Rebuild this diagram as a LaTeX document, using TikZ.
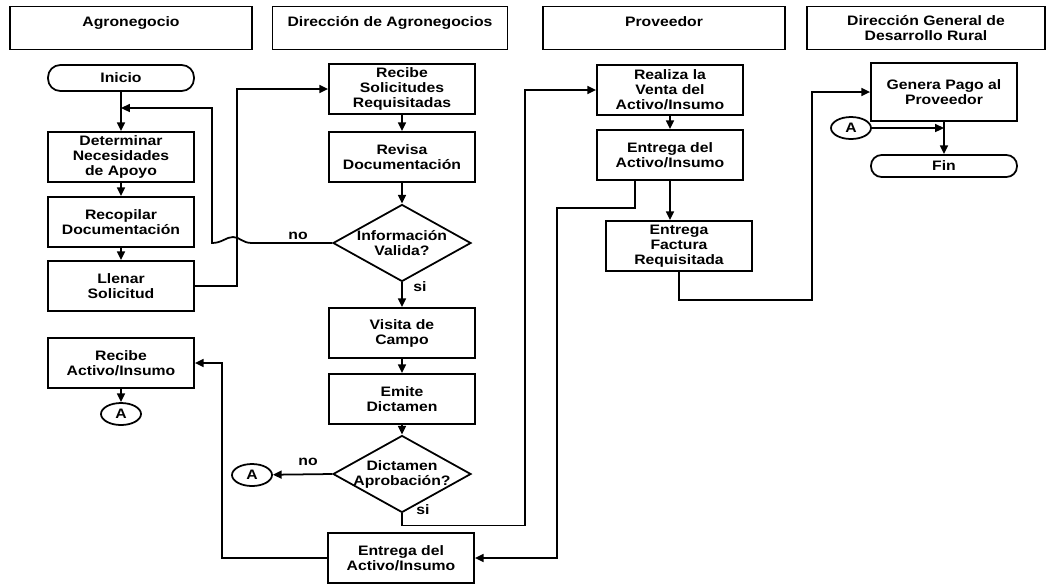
\documentclass[tikz,border=0pt]{standalone}
\usepackage{fontspec}
\setmainfont{Liberation Sans}[FakeStretch=1.15]
\usetikzlibrary{arrows.meta,shapes.geometric,calc}

\begin{document}
\begin{tikzpicture}[x=0.02cm,y=-0.02cm,
    every node/.style={font=\fontsize{7.8}{8.5}\selectfont\bfseries},
    lane/.style={draw,line width=1pt,minimum width=4.84cm,minimum height=0.86cm,align=center},
    laneone/.style={lane,text depth=0.26cm},
    proc/.style={draw,line width=1pt,minimum width=2.92cm,minimum height=1cm,align=center,inner sep=1pt},
    term/.style={draw,line width=1pt,rounded corners=7pt,minimum width=2.92cm,minimum height=0.52cm},
    decide/.style={draw,diamond,aspect=1.8,line width=1pt,minimum width=2.76cm,minimum height=1.54cm,inner sep=-3pt,align=center},
    conn/.style={draw,ellipse,line width=1pt,minimum width=0.8cm,minimum height=0.44cm,inner sep=0pt},
    flow/.style={line width=1pt,-{Triangle[length=5pt,width=4.5pt]}}]
    %%%%% START %%%%%
    \useasboundingbox (0,0) rectangle (1049,583);

    % lanes
    \node[laneone] (hAgro) at (131,28) {Agronegocio};
    \node[laneone,minimum width=4.7cm] (hDir) at (390,28) {Dirección de Agronegocios};
    \node[laneone] (hProv) at (664,28) {Proveedor};
    \node[lane,minimum width=4.76cm] (hDGDR) at (926,28) {Dirección General de\\Desarrollo Rural};

    % agronegocio
    \node[term] (inicio) at (121,78) {Inicio};
    \node[proc] (determ) at (121,157) {Determinar\\Necesidades\\de Apoyo};
    \node[proc] (recop) at (121,222) {Recopilar\\Documentación};
    \node[proc] (llenar) at (121,286) {Llenar\\Solicitud};
    \node[proc] (recAct) at (121,363) {Recibe\\Activo/Insumo};
    \node[conn] (aLeft) at (121,414) {A};

    % direccion de agronegocios
    \node[proc] (recSol) at (402,89) {Recibe\\Solicitudes\\Requisitadas};
    \node[proc] (revisa) at (402,157) {Revisa\\Documentación};
    \node[decide] (infoVal) at (402,243) {Información\\Valida?};
    \node[proc] (visita) at (402,333) {Visita de\\Campo};
    \node[proc] (emite) at (402,399) {Emite\\Dictamen};
    \node[decide] (dictam) at (402,474) {Dictamen\\Aprobación?};
    \node[conn] (aMid) at (252,475) {A};
    \node[proc] (entMid) at (401,558) {Entrega del\\Activo/Insumo};

    % proveedor
    \node[proc] (realiza) at (670,90) {Realiza la\\Venta del\\Activo/Insumo};
    \node[proc] (entProv) at (670,155) {Entrega del\\Activo/Insumo};
    \node[proc] (factura) at (679,246) {Entrega\\Factura\\Requisitada};

    % direccion general
    \node[proc,minimum height=1.16cm] (genera) at (944,92) {Genera Pago al\\Proveedor};
    \node[conn] (aRight) at (851,128) {A};
    \node[term,minimum height=0.44cm,rounded corners=6pt] (fin) at (944,166) {Fin};

    % labels
    \node (noOne) at (298,236) {no};
    \node (siOne) at (420,287) {si};
    \node (noTwo) at (308,462) {no};
    \node (siTwo) at (423,510) {si};

    \coordinate (joinIni) at (121,108);
    \coordinate (hopR) at (252,243);
    \coordinate (hopL) at (212,243);

    % flow
    \draw[flow] (inicio) -- (determ);
    \draw[flow] (determ) -- (recop);
    \draw[flow] (recop) -- (llenar);
    \draw[flow] (llenar.east) -- ++(42,0) |- (recSol.west);
    \draw[flow] (recSol) -- (revisa);
    \draw[flow] (revisa.south) -- (infoVal.north);
    \draw[flow] (infoVal.west) -- (hopR) .. controls (242,243) and (240,237) .. (233,237)
        .. controls (226,237) and (222,243) .. (hopL) |- (joinIni);
    \draw[flow] (infoVal.south) -- (visita.north);
    \draw[flow] (visita) -- (emite);
    \draw[flow] (emite.south) -- (dictam.north);
    \draw[flow] (dictam.west) -- (aMid);
    \draw[flow] (dictam.south) -- ++(0,12) -| ($(realiza.west)+(-71,0)$) -- (realiza.west);
    \draw[flow] (realiza) -- (entProv);
    \draw[flow] (entProv.south) -- (entProv.south |- factura.north);
    \draw[flow] ($(entProv.south)+(-35,0)$) -- ++(0,27) -| ($(entMid.east)+(82,0)$) -- (entMid.east);
    \draw[flow] (entMid.west) -- ++(-105,0) |- (recAct.east);
    \draw[flow] (recAct) -- (aLeft);
    \draw[flow] (factura.south) -- ++(0,28) -| ($(genera.west)+(-58,0)$) -- (genera.west);
    \draw[flow] (genera) -- (fin);
    \draw[flow] (aRight) -- (aRight -| genera.south);

    %%%%% END %%%%%
\end{tikzpicture}
\end{document}
